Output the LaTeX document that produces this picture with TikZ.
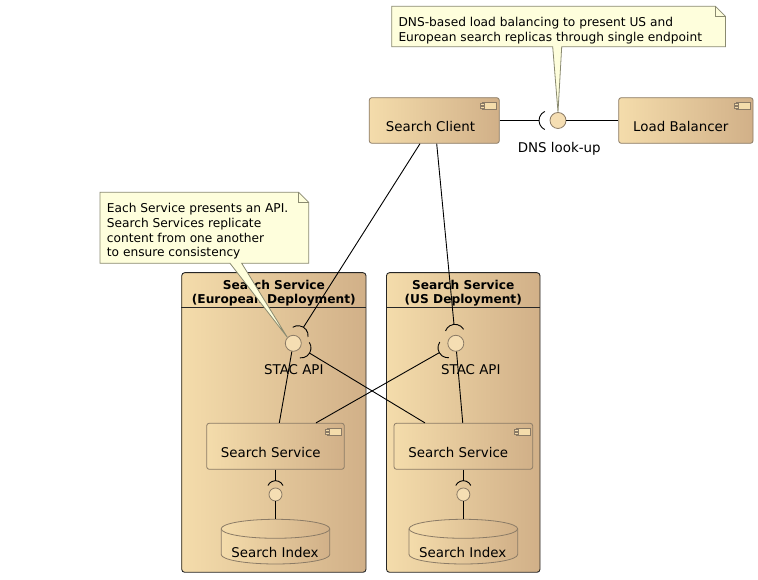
\documentclass[tikz,border=0pt]{standalone}
\usepackage{fontspec}
\setmainfont{DejaVu Sans}
\usetikzlibrary{calc}
\definecolor{cl}{HTML}{F4DCAB}
\definecolor{cr}{HTML}{D1B088}
\definecolor{bord}{HTML}{8B7B66}
\definecolor{notefill}{HTML}{FEFEDC}
\definecolor{noteline}{HTML}{8A8A70}
\definecolor{ifill}{HTML}{F5DEB3}
\newcommand\dbcyl[1]{%
 \draw[draw=bord,line width=0.8pt,left color=cl,right color=cr] ({#1-54.3},51.2) -- ({#1-54.3},25.5) arc[start angle=180,end angle=360,x radius=54.3,y radius=9.5] -- ({#1+54.3},51.2) arc[start angle=0,end angle=180,x radius=54.3,y radius=9.5] -- cycle;
 \draw[draw=bord,line width=0.8pt] ({#1-54.3},51.2) arc[start angle=180,end angle=360,x radius=54.3,y radius=9.5];}
\newcommand\socket[4]{%
 \draw[conn] let \p1=($(#2)-(#1)$), \n1={atan2(\y1,\x1)} in ($(#1)!#3pt!(#2)$) ++({\n1-65}:#4pt) arc[start angle={\n1-65}, end angle={\n1+65}, radius=#4pt];}
\tikzset{
 cicon/.pic={
  \draw[draw=bord, line width=0.6pt, fill=cl] (-17,-5) rectangle (-3,-12.5);
  \draw[draw=bord, line width=0.6pt, fill=cl] (-19,-6.5) rectangle (-15,-8.3);
  \draw[draw=bord, line width=0.6pt, fill=cl] (-19,-9.5) rectangle (-15,-11.3);
 },
 conn/.style={line width=0.9pt, draw=black},
 box/.style={draw=bord, line width=0.8pt, rounded corners=2.5pt, left color=cl, right color=cr, inner sep=0pt},
 cont/.style={draw=black!85, line width=0.9pt, rounded corners=3pt, left color=cl, right color=cr, inner sep=0pt},
 iface/.style={circle, draw=bord, line width=0.8pt, fill=ifill, inner sep=0pt, minimum size=16pt},
 lbl/.style={font=\fontsize{13.4}{16}\selectfont, anchor=base, inner sep=0pt},
 ttl/.style={font=\bfseries\fontsize{12.2}{14}\selectfont, anchor=base, inner sep=0pt},
 nt/.style={font=\fontsize{12.2}{14}\selectfont, anchor=base west, inner sep=0pt},
 note/.style={draw=noteline, fill=notefill, line width=0.8pt, line join=miter},
}
\begin{document}
\begin{tikzpicture}[x=1pt,y=1pt]
\useasboundingbox (0,0) rectangle (758,580);
\fill[white] (0,0) rectangle (758,580);

% containers
\node[cont, minimum width=184.3pt, minimum height=299.6pt] (eur) at (273.85,157.5) {};
\node[cont, minimum width=153.5pt, minimum height=299.6pt] (us) at (463.25,157.5) {};
\draw[line width=0.9pt, black!85] ([yshift=-35.3pt]eur.north west) -- ([yshift=-35.3pt]eur.north east);
\draw[line width=0.9pt, black!85] ([yshift=-35.3pt]us.north west) -- ([yshift=-35.3pt]us.north east);
\node[ttl] (eurt1) at (273.85,290) {Search Service};
\node[ttl] (eurt2) at (273.85,276.5) {(European Deployment)};
\node[ttl] (ust1) at (463.25,290) {Search Service};
\node[ttl] (ust2) at (463.25,276.5) {(US Deployment)};

% components
\node[box, minimum width=130pt, minimum height=45.6pt] (sc) at (434.3,459.5) {};
\pic at (sc.north east) {cicon};
\node[lbl] (sctext) at (430.5,448.3) {Search Client};
\node[box, minimum width=134.3pt, minimum height=45.6pt] (lb) at (685.85,459.5) {};
\pic at (lb.north east) {cicon};
\node[lbl] (lbtext) at (680.8,448.3) {Load Balancer};
\node[box, minimum width=137.6pt, minimum height=46pt] (eursvc) at (275.5,133.7) {};
\pic at (eursvc.north east) {cicon};
\node[lbl] (eursvctext) at (270.8,122.7) {Search Service};
\node[box, minimum width=138.7pt, minimum height=46pt] (ussvc) at (463.35,133.7) {};
\pic at (ussvc.north east) {cicon};
\node[lbl] (ussvctext) at (458.3,122.7) {Search Service};

% databases
\dbcyl{275.5}
\node[inner sep=0pt, minimum width=108.6pt, minimum height=44.7pt] (eidx) at (275.5,38.35) {};
\node[lbl] (eidxtext) at (275,22.7) {Search Index};
\dbcyl{463.35}
\node[inner sep=0pt, minimum width=108.6pt, minimum height=44.7pt] (uidx) at (463.35,38.35) {};
\node[lbl] (uidxtext) at (462.7,22.7) {Search Index};

% interfaces
\node[iface] (dns) at (558,459.5) {};
\node[lbl] (dnstext) at (559.2,427.7) {DNS look-up};
\node[iface] (eurapi) at (293.3,236.7) {};
\node[lbl] (eurapitext) at (293.8,205.5) {STAC API};
\node[iface] (usapi) at (455.8,236.7) {};
\node[lbl] (usapitext) at (470.8,205.5) {STAC API};
\node[iface, minimum size=13pt] (eidxi) at (275.5,85.5) {};
\node[iface, minimum size=13pt] (uidxi) at (463.35,85.5) {};

% DNS connectors
\coordinate (dnsS) at ($(dns)!19pt!(sc.east)$);
\draw[conn] (sc.east) -- (dnsS);
\socket{dns}{sc.east}{9}{10}
\draw[conn] (dns) -- (lb);

% Search client to APIs
\coordinate (scb1) at ([xshift=-14.3pt]sc.south);
\coordinate (scb2) at ([xshift=2.4pt]sc.south);
\coordinate (eS1) at ($(eurapi)!19pt!(scb1)$);
\draw[conn] (scb1) -- (eS1);
\socket{eurapi}{scb1}{9}{10}
\coordinate (uS1) at ($(usapi)!19pt!(scb2)$);
\draw[conn] (scb2) -- (uS1);
\socket{usapi}{scb2}{9}{10}

% cross replication
\coordinate (ussvcT) at ([xshift=-38.4pt]ussvc.north);
\coordinate (eS2) at ($(eurapi)!19pt!(ussvcT)$);
\draw[conn] (ussvcT) -- (eS2);
\socket{eurapi}{ussvcT}{9}{10}
\coordinate (eursvcT) at ([xshift=40.5pt]eursvc.north);
\coordinate (uS2) at ($(usapi)!19pt!(eursvcT)$);
\draw[conn] (eursvcT) -- (uS2);
\socket{usapi}{eursvcT}{9}{10}

% provided APIs
\draw[conn] ([xshift=3.8pt]eursvc.north) -- (eurapi);
\draw[conn] ([xshift=-0.6pt]ussvc.north) -- (usapi);

% index interfaces
\coordinate (eS3) at ($(eidxi)!13.8pt!(eursvc.south)$);
\draw[conn] (eursvc.south) -- (eS3);
\socket{eidxi}{eursvc.south}{5.5}{8.3}
\draw[conn] (eidxi) -- (eidx.north);
\coordinate (uS3) at ($(uidxi)!13.8pt!(ussvc.south)$);
\draw[conn] (ussvc.south) -- (uS3);
\socket{uidxi}{ussvc.south}{5.5}{8.3}
\draw[conn] (uidxi) -- (uidx.north);

% note 1
\node[inner sep=0pt, minimum width=333.3pt, minimum height=40pt, anchor=south west] (n1) at (391.7,533.3) {};
\draw[note] (n1.south west) -- (552.7,533.3) -- (dns.north) -- (561.7,533.3) -- (n1.south east) -- ([yshift=-10pt]n1.north east) -- ([xshift=-10pt]n1.north east) -- (n1.north west) -- cycle;
\draw[note, fill=none] ([xshift=-10pt]n1.north east) |- ([yshift=-10pt]n1.north east);
\node[nt] (n1a) at (398.3,553.5) {DNS-based load balancing to present US and};
\node[nt] (n1b) at (398.3,538.8) {European search replicas through single endpoint};

% note 2
\node[inner sep=0pt, minimum width=208.3pt, minimum height=70.6pt, anchor=south west] (n2) at (100,316.7) {};
\draw[note] (n2.south west) -- (230,316.7) -- (eurapi.135) -- (241.7,316.7) -- (n2.south east) -- ([yshift=-10pt]n2.north east) -- ([xshift=-10pt]n2.north east) -- (n2.north west) -- cycle;
\draw[note, fill=none] ([xshift=-10pt]n2.north east) |- ([yshift=-10pt]n2.north east);
\node[nt] (n2a) at (106.7,367) {Each Service presents an API.};
\node[nt] (n2b) at (106.7,352.3) {Search Services replicate};
\node[nt] (n2c) at (106.7,337.7) {content from one another};
\node[nt] (n2d) at (106.7,323) {to ensure consistency};
\end{tikzpicture}
\end{document}
